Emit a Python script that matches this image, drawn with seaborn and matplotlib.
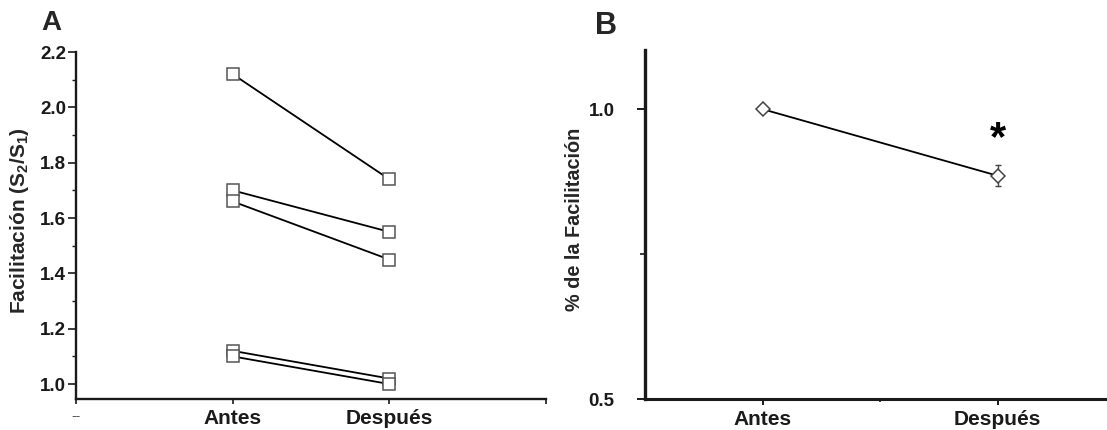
import matplotlib
matplotlib.use("Agg")
import matplotlib.pyplot as plt
from matplotlib.ticker import FixedLocator, MultipleLocator
import numpy as np
import pandas as pd
import seaborn as sns

# Paired facilitation ratios (S2/S1) per preparation, before and after
conditions = ["Antes", "Después"]
cond_pos = [1, 2]
antes = [2.12, 1.70, 1.66, 1.12, 1.10]
despues = [1.74, 1.55, 1.45, 1.02, 1.00]
sujetos = ["p1", "p2", "p3", "p4", "p5"]

# Tick labels of panel A's category axis
xticks_a = [0, 1, 2, 3]
xticklabels_a = ["--", "Antes", "Después", ""]

sns.set_style("ticks")
plt.rcParams["font.family"] = ["Liberation Sans", "DejaVu Sans"]
plt.rcParams["font.weight"] = "bold"
plt.rcParams["mathtext.fontset"] = "custom"
plt.rcParams["mathtext.rm"] = "Liberation Sans"
plt.rcParams["mathtext.it"] = "Liberation Sans:italic"
plt.rcParams["mathtext.bf"] = "Liberation Sans:bold"

rows = []
for s, a, d in zip(sujetos, antes, despues):
    rows.append({"sujeto": s, "pos": cond_pos[0], "fac": a, "rel": a / a})
    rows.append({"sujeto": s, "pos": cond_pos[1], "fac": d, "rel": d / a})
df = pd.DataFrame(rows)

W, H = 1107, 430
fig = plt.figure(figsize=(W / 100, H / 100), dpi=100)
axA = fig.add_axes([76 / W, 1 - 399 / H, 470 / W, 347 / H])
axB = fig.add_axes([645 / W, 1 - 399 / H, 462 / W, 349 / H])

spine_col = "#1a1a1a"

# ---- Panel A: individual paired lines ----
sns.lineplot(data=df, x="pos", y="fac", units="sujeto", estimator=None,
             color="black", lw=1.3, marker="s", markersize=8,
             markerfacecolor="white", markeredgecolor="#555555",
             markeredgewidth=1.1, legend=False, ax=axA)
axA.set_xlim(0, 3)
axA.set_ylim(0.946, 2.2)
axA.xaxis.set_major_locator(FixedLocator(xticks_a))
axA.set_xticklabels(xticklabels_a)
axA.yaxis.set_minor_locator(MultipleLocator(0.1))
axA.set_yticks(np.round(np.arange(1.0, 2.21, 0.2), 1))
axA.set_yticklabels([f"{v:.1f}" for v in np.arange(1.0, 2.21, 0.2)])
axA.set_xlabel("")
axA.set_ylabel("Facilitación (S$_{\\mathrm{2}}$/S$_{\\mathrm{1}}$)",
               fontsize=15, fontweight="bold")
axA.yaxis.set_label_coords(-0.096, 0.514)
for side in ("top", "right"):
    axA.spines[side].set_visible(False)
for side in ("left", "bottom"):
    axA.spines[side].set_linewidth(1.7)
    axA.spines[side].set_color(spine_col)
axA.tick_params(axis="y", which="major", direction="out", length=5.5,
                width=1.2, pad=1.5, labelsize=13.5, colors=spine_col)
axA.tick_params(axis="y", which="minor", direction="out", length=3,
                width=1.0, colors=spine_col)
axA.tick_params(axis="x", which="major", direction="out", length=3.5,
                width=1.2, pad=4, labelsize=15, colors=spine_col)
lbl0 = axA.get_xticklabels()[0]
lbl0.set_fontsize(10)
lbl0.set_fontweight("normal")
lbl0.set_color("#555555")
for t in axA.get_yticklabels() + axA.get_xticklabels()[1:]:
    t.set_fontweight("bold")

# ---- Panel B: normalised mean ± SEM ----
sns.lineplot(data=df, x="pos", y="rel", errorbar="se", err_style="bars",
             color="black", lw=1.3, marker="D", markersize=7,
             markerfacecolor="white", markeredgecolor="#444444",
             markeredgewidth=1.1, zorder=3,
             err_kws={"capsize": 2.5, "elinewidth": 1.0, "ecolor": "#444444",
                      "capthick": 1.0, "zorder": 2},
             ax=axB)
axB.set_xlim(0.5, 0.5 + 462 / 235)
axB.set_ylim(0.5, 1.102)
axB.xaxis.set_major_locator(FixedLocator(cond_pos))
axB.set_xticklabels(conditions)
axB.xaxis.set_minor_locator(FixedLocator([1.5]))
axB.yaxis.set_major_locator(FixedLocator([0.5, 1.0]))
axB.set_yticklabels(["0.5", "1.0"])
axB.yaxis.set_minor_locator(FixedLocator([0.75]))
axB.set_xlabel("")
axB.set_ylabel("% de la Facilitación", fontsize=14.3, fontweight="bold")
axB.yaxis.set_label_coords(-0.132, 0.516)
for side in ("top", "right"):
    axB.spines[side].set_visible(False)
axB.spines["left"].set_linewidth(2.4)
axB.spines["bottom"].set_linewidth(2.2)
for side in ("left", "bottom"):
    axB.spines[side].set_color(spine_col)
axB.tick_params(axis="y", which="major", direction="out", length=6,
                width=1.4, pad=16, labelsize=13.5, colors=spine_col)
axB.tick_params(axis="y", which="minor", direction="out", length=3.5,
                width=1.2, colors=spine_col)
axB.tick_params(axis="x", which="major", direction="out", length=4.5,
                width=1.4, pad=3.5, labelsize=15, colors=spine_col)
axB.tick_params(axis="x", which="minor", direction="out", length=2.5,
                width=1.2, colors=spine_col)
for t in axB.get_yticklabels() + axB.get_xticklabels():
    t.set_fontweight("bold")

# significance mark above the "after" point
mean_after = df.loc[df["pos"] == cond_pos[1], "rel"].mean()
axB.text(cond_pos[1], mean_after + 0.028, "*", ha="center", va="bottom",
         fontsize=30, fontweight="bold", color="black")

# panel letters
fig.text(41.5 / W, 1 - 29.5 / H, "A", fontsize=20, fontweight="bold",
         ha="left", va="baseline")
fig.text(595 / W, 1 - 34.5 / H, "B", fontsize=22, fontweight="bold",
         ha="left", va="baseline")

fig.savefig("out.png", dpi=100, facecolor="white")
